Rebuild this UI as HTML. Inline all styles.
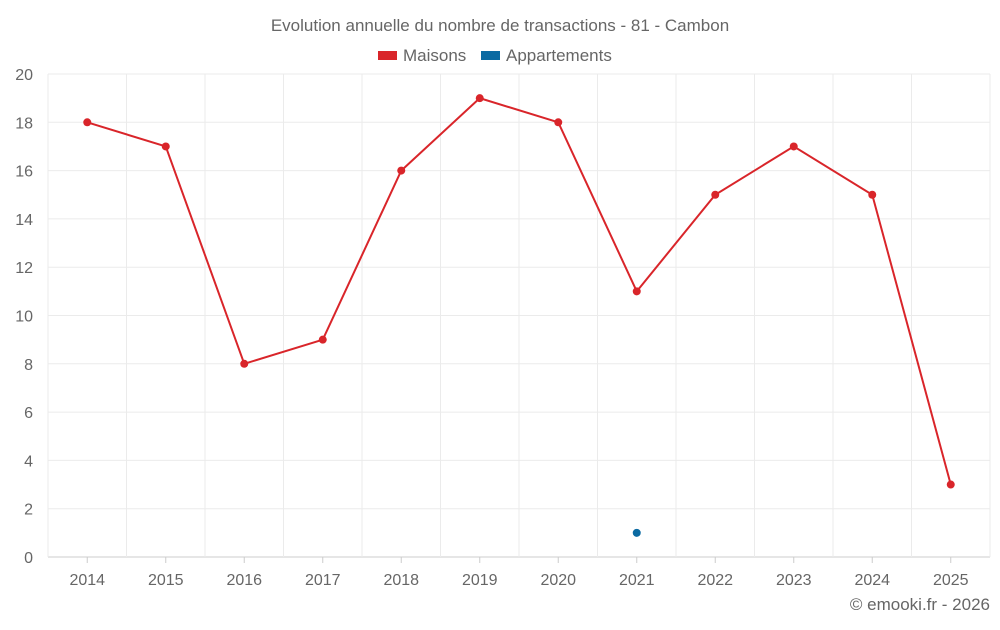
<!DOCTYPE html>
<html><head><meta charset="utf-8"><style>
body{margin:0;background:#fff;font-family:"Liberation Sans",sans-serif;}
svg text{font-family:"Liberation Sans",sans-serif;fill:#666;}
</style></head><body>
<svg id="c" width="1000" height="625">
<text x="500" y="31" text-anchor="middle" font-size="17">Evolution annuelle du nombre de transactions - 81 - Cambon</text>
<g>
<g><rect x="378" y="51" width="19" height="9" fill="#d9252a"/><text x="403" y="61" font-size="17">Maisons</text></g>
<g><rect x="481" y="51" width="19" height="9" fill="#0b6aa2"/><text x="506" y="61" font-size="17">Appartements</text></g>
</g>
<g id="grid"></g>
<g id="axes"></g>
<g id="marks"></g>
<text x="990" y="610" text-anchor="end" font-size="17">© emooki.fr - 2026</text>
</svg>
<script>
const categories=["2014","2015","2016","2017","2018","2019","2020","2021","2022","2023","2024","2025"];
const maisons=[18,17,8,9,16,19,18,11,15,17,15,3];
const appartements=[null,null,null,null,null,null,null,1,null,null,null,null];
const yTicks=[0,2,4,6,8,10,12,14,16,18,20];
const NS="http://www.w3.org/2000/svg";
const L=48,R=990,T=74,B=557,yMax=20;
const bw=(R-L)/categories.length;
const x=i=>L+(i+0.5)*bw;
const y=v=>B-(v/yMax)*(B-T);
function mk(tag,attrs,parent){const e=document.createElementNS(NS,tag);for(const k in attrs)e.setAttribute(k,attrs[k]);document.getElementById(parent).appendChild(e);return e;}
yTicks.forEach(t=>{
 const g=mk('line',{x1:L,x2:R,y1:y(t),y2:y(t),stroke:t===0?'#ccc':'#ebebeb','stroke-width':1},'grid');
 
 
 const tx=mk('text',{x:33,y:y(t)+6,'text-anchor':'end','font-size':16},'axes');tx.textContent=t;
 
 
});
for(let i=0;i<=categories.length;i++){
 const g=mk('line',{x1:L+i*bw,x2:L+i*bw,y1:T,y2:B+(i===0?0:0),stroke:'#ebebeb'},'grid');
 
 
}
categories.forEach((c,i)=>{
 const tk=mk('line',{x1:x(i),x2:x(i),y1:B,y2:B+6,stroke:'#ccc'},'axes');
 
 
 const tx=mk('text',{x:x(i),y:585,'text-anchor':'middle','font-size':16},'axes');tx.textContent=c;
 
 
});
const pts=maisons.map((v,i)=>x(i)+','+y(v)).join(' ');
const pl=mk('polyline',{points:pts,fill:'none',stroke:'#d9252a','stroke-width':2},'marks');


maisons.forEach((v,i)=>{
 const c=mk('circle',{cx:x(i),cy:y(v),r:4,fill:'#d9252a'},'marks');
 
 
});
appartements.forEach((v,i)=>{
 if(v===null)return;
 const c=mk('circle',{cx:x(i),cy:y(v),r:4,fill:'#0b6aa2'},'marks');
 
 
});
</script>
</body></html>
